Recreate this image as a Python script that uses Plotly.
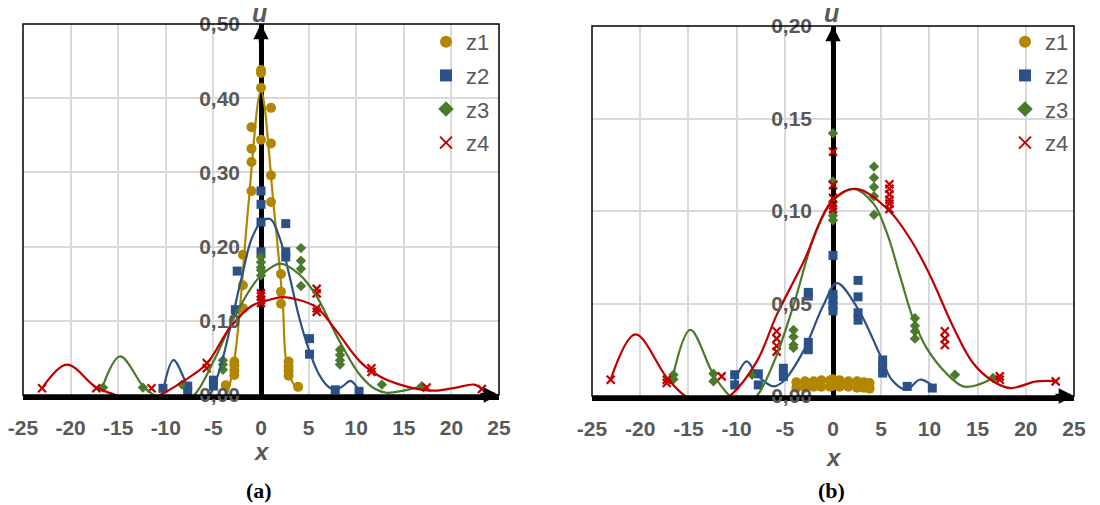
import plotly.graph_objects as go

# ---------------- data: panel (a) ----------------
a_z1_x = [0, 0, 0, 0, 1.05, -1.0, 1.05, -1.0, -1.0, 1.05, -1.0, 1.05, -1.9, -1.9, -1.9,
          2.1, 2.1, 2.1, -2.8, -2.8, -2.8, -2.8, -3.7, 2.9, 2.9, 2.9, 2.9, 3.9]
a_z1_u = [0.438, 0.434, 0.414, 0.344, 0.387, 0.361, 0.339, 0.332, 0.314, 0.296, 0.275, 0.260,
          0.189, 0.148, 0.117, 0.163, 0.139, 0.123, 0.045, 0.040, 0.033, 0.027, 0.013,
          0.045, 0.038, 0.032, 0.026, 0.011]
a_z2_x = [0, 0, 0, 0, 2.6, 2.6, 2.6, -2.5, -2.7, 5.1, 5.1, -5.0, -5.0, -7.7, -7.7, -10.3, 7.8, 10.3]
a_z2_u = [0.275, 0.257, 0.233, 0.193, 0.231, 0.193, 0.186, 0.167, 0.115, 0.076, 0.055,
          0.020, 0.012, 0.012, 0.006, 0.009, 0.007, 0.005]
a_z3_x = [0, 0, 0, 0, 0, 4.2, 4.2, 4.2, 4.2, 8.3, 8.3, 8.3, 8.3, -4.0, -4.0, -4.0,
          -8.3, -12.4, -16.6, 12.7, 16.9]
a_z3_u = [0.186, 0.179, 0.172, 0.168, 0.161, 0.198, 0.181, 0.170, 0.147, 0.061, 0.054,
          0.047, 0.041, 0.047, 0.041, 0.034, 0.014, 0.010, 0.010, 0.014, 0.012]
a_z4_x = [0, 0, 0, 0, 5.85, 5.85, 5.85, 5.85, -5.7, -5.7, -23.0, -17.3, -11.5, 11.6, 11.6, 17.4, 23.2]
a_z4_u = [0.137, 0.133, 0.128, 0.124, 0.143, 0.137, 0.117, 0.112, 0.043, 0.036,
          0.009, 0.009, 0.009, 0.036, 0.031, 0.010, 0.008]

# smooth curves (a)
a_c1_x = [-3.6, -3.0, -2.4, -1.33, 0.0, 1.33, 2.3, 2.6, 3.2, 3.9]
a_c1_u = [0.0, 0.03, 0.09, 0.255, 0.41, 0.255, 0.12, 0.05, 0.02, 0.006]
a_c2_x = [-10.3, -9.2, -8.0, -7.0, -6.0, -5.0, -4.0, -3.0, -2.0, -1.0, 0.0, 1.0, 2.0,
          3.0, 4.0, 5.0, 6.0, 7.0, 7.8, 8.6, 9.4, 10.3]
a_c2_u = [0.005, 0.047, 0.02, -0.01, -0.01, 0.01, 0.05, 0.105, 0.16, 0.21, 0.233, 0.237,
          0.21, 0.16, 0.105, 0.062, 0.03, 0.012, 0.007, 0.012, 0.019, 0.006]
a_c3_x = [-16.7, -14.8, -12.4, -11.3, -9.5, -7.0, -5.0, -3.0, -1.0, 0.0, 2.0, 4.0, 5.8,
          8.1, 10.4, 12.0, 13.2, 15.0, 16.9]
a_c3_u = [0.009, 0.052, 0.012, 0.0, -0.02, 0.0, 0.045, 0.1, 0.145, 0.161, 0.177, 0.163,
          0.134, 0.076, 0.027, 0.008, 0.003, 0.006, 0.012]
a_c4_x = [-23.0, -20.4, -17.3, -15.3, -13.0, -10.6, -8.0, -5.7, -3.3, -1.0, 0.0, 2.3, 4.0,
          5.85, 8.0, 10.4, 12.5, 14.6, 16.5, 18.5, 20.5, 22.4, 23.2]
a_c4_u = [0.009, 0.041, 0.01, 0.0, -0.012, 0.0, 0.02, 0.042, 0.09, 0.12, 0.125, 0.132,
          0.128, 0.118, 0.085, 0.045, 0.025, 0.014, 0.008, 0.006, 0.01, 0.014, 0.008]

# ---------------- data: panel (b) ----------------
b_z1_x = [-3.8, -2.9, -2.0, -1.2, -0.3, 0.0, 0.7, 1.6, 2.5, 3.2, 3.8,
          -3.8, -2.9, -2.0, -1.2, -0.3, 0.0, 0.7, 1.6, 2.5, 3.2, 3.8]
b_z1_u = [0.0075, 0.008, 0.008, 0.0085, 0.0085, 0.009, 0.0085, 0.008, 0.008, 0.0075, 0.007,
          0.0045, 0.0045, 0.005, 0.005, 0.005, 0.0055, 0.005, 0.005, 0.0045, 0.0045, 0.004]
b_z2_x = [0, 0, 0, 0, 0, 2.6, 2.6, 2.6, 2.6, -2.56, -2.56, -2.56, -2.56, -5.15, -5.15,
          5.15, 5.15, 5.15, -7.75, -7.75, -10.2, -10.2, 7.7, 10.3]
b_z2_u = [0.076, 0.055, 0.052, 0.049, 0.046, 0.0625, 0.0536, 0.045, 0.041, 0.056, 0.054,
          0.029, 0.025, 0.015, 0.0105, 0.0195, 0.016, 0.0124, 0.012, 0.006, 0.0115, 0.006,
          0.0052, 0.0043]
b_z3_x = [0, 0, 0, 0, 4.25, 4.25, 4.25, 4.25, 4.25, 8.5, 8.5, 8.5, 8.5, -4.1, -4.1, -4.1,
          -4.1, -8.4, -12.4, -12.4, -16.55, -16.55, 12.65, 16.6]
b_z3_u = [0.142, 0.116, 0.0975, 0.095, 0.124, 0.118, 0.113, 0.108, 0.098, 0.042, 0.038,
          0.035, 0.031, 0.0357, 0.032, 0.0276, 0.026, 0.0115, 0.012, 0.008, 0.0115, 0.009,
          0.0115, 0.0097]
b_z4_x = [0, 0, 0, 0, 0, 5.85, 5.85, 5.85, 5.85, 5.85, 5.85, -5.85, -5.85, -5.85, -5.85,
          -23.06, -17.25, -17.25, -11.55, 11.6, 11.6, 11.6, 17.3, 17.3, 23.1]
b_z4_u = [0.132, 0.114, 0.107, 0.103, 0.101, 0.1145, 0.112, 0.109, 0.106, 0.104, 0.101,
          0.035, 0.031, 0.027, 0.024, 0.0088, 0.0088, 0.007, 0.0106, 0.035, 0.031, 0.0276,
          0.0106, 0.0088, 0.0079]

b_c2_x = [-10.2, -8.95, -7.9, -6.2, -5.15, -3.1, -1.0, 0.4, 2.6, 4.9, 6.1, 7.6, 9.0, 10.2]
b_c2_u = [0.008, 0.0187, 0.0115, 0.0052, 0.008, 0.024, 0.049, 0.061, 0.047, 0.022, 0.0088,
          0.0034, 0.0088, 0.006]
b_c3_x = [-16.55, -14.8, -12.4, -10.7, -9.3, -7.9, -6.0, -4.1, -1.7, 0.0, 2.1, 4.2, 5.6,
          7.0, 8.3, 9.7, 11.8, 13.5, 15.0, 16.6]
b_c3_u = [0.012, 0.0357, 0.0115, 0.0, -0.005, 0.0, 0.02, 0.049, 0.09, 0.1055, 0.112, 0.104,
          0.088, 0.064, 0.042, 0.026, 0.012, 0.0052, 0.006, 0.0097]
b_c4_x = [-23.06, -20.5, -17.25, -15.35, -13.0, -10.7, -7.9, -5.85, -3.1, 0.0, 2.45, 5.85,
          8.0, 10.0, 12.5, 14.5, 16.6, 18.4, 21.1, 23.1]
b_c4_u = [0.009, 0.0333, 0.01, 0.0, -0.006, 0.0, 0.0187, 0.0437, 0.072, 0.106, 0.112, 0.100,
          0.085, 0.066, 0.037, 0.018, 0.008, 0.0043, 0.0079, 0.008]

x_ticks = [-25, -20, -15, -10, -5, 0, 5, 10, 15, 20, 25]
x_tick_text = ["-25", "-20", "-15", "-10", "-5", "0", "5", "10", "15", "20", "25"]
series_names = ["z1", "z2", "z3", "z4"]

# ---------------- styles ----------------
W, H = 1100, 505
GOLD, BLUE, GREEN, RED = "#B38600", "#2B5188", "#4B7A2D", "#C00000"
GRAY = "#595959"
FONT = "Liberation Sans"

A = dict(x0=23, x1=499, top=24, bot=395)
B = dict(x0=592, x1=1074, top=26, bot=396)


def dom(p):
    return [p["x0"] / W, p["x1"] / W], [1 - p["bot"] / H, 1 - p["top"] / H]


markers = [
    dict(symbol="circle", size=10, color=GOLD),
    dict(symbol="square", size=9, color=BLUE),
    dict(symbol="diamond", size=8, color=GREEN),
    dict(symbol="x-thin", size=8, color=RED, line=dict(color=RED, width=2.2)),
]

fig = go.Figure()

panels = [
    ("x", "y", "legend",
     [(a_z1_x, a_z1_u), (a_z2_x, a_z2_u), (a_z3_x, a_z3_u), (a_z4_x, a_z4_u)],
     [(a_c1_x, a_c1_u, GOLD), (a_c2_x, a_c2_u, BLUE), (a_c3_x, a_c3_u, GREEN), (a_c4_x, a_c4_u, RED)]),
    ("x2", "y2", "legend2",
     [(b_z1_x, b_z1_u), (b_z2_x, b_z2_u), (b_z3_x, b_z3_u), (b_z4_x, b_z4_u)],
     [(b_c2_x, b_c2_u, BLUE), (b_c3_x, b_c3_u, GREEN), (b_c4_x, b_c4_u, RED)]),
]

for xa, ya, lg, pts, curves in panels:
    for i, (px, pu) in enumerate(pts):
        fig.add_trace(go.Scatter(
            x=px, y=pu, mode="markers", name=series_names[i], marker=markers[i],
            xaxis=xa, yaxis=ya, legend=lg, legendgroup=lg + series_names[i],
            cliponaxis=True))
    for cx, cu, col in curves:
        fig.add_trace(go.Scatter(
            x=cx, y=cu, mode="lines", line=dict(color=col, width=2.2, shape="spline", smoothing=1),
            xaxis=xa, yaxis=ya, showlegend=False, hoverinfo="skip"))

tickfont = dict(family=FONT, size=21, color=GRAY, weight="bold")


def xaxis_cfg(p, anchor):
    d, _ = dom(p)
    return dict(domain=d, anchor=anchor, range=[-25, 25], tickvals=x_ticks, ticktext=x_tick_text,
                showgrid=True, gridcolor="#D9D9D9", gridwidth=2,
                zeroline=True, zerolinecolor="black", zerolinewidth=4.5,
                showline=True, linecolor="black", linewidth=4.5, mirror=False,
                ticks="", tickfont=tickfont, ticklabelstandoff=10, fixedrange=True,
                automargin=False)


def yaxis_cfg(p, rng, dt):
    d, dy = dom(p)
    return dict(domain=dy, anchor="free", position=(d[0] + d[1]) / 2, range=rng, dtick=dt,
                tickformat=".2f", showgrid=True, gridcolor="#D9D9D9", gridwidth=2,
                zeroline=False, showline=False, ticks="", tickfont=tickfont,
                ticklabelstandoff=21, fixedrange=True, automargin=False)


legend_common = dict(font=dict(family=FONT, size=22, color=GRAY), bgcolor="rgba(0,0,0,0)",
                     tracegroupgap=2, xanchor="left", yanchor="top", itemsizing="constant")

shapes = []
annotations = []
for p, xa, ya, top, label, lab_y, xlab_y in [(A, "x", "y", 0.5, "(a)", 490, 451),
                                            (B, "x2", "y2", 0.2, "(b)", 490, 457)]:
    # thin plot border (left, top, right)
    shapes.append(dict(type="rect", xref="paper", yref="paper",
                       x0=p["x0"] / W, x1=p["x1"] / W, y0=1 - p["bot"] / H, y1=1 - p["top"] / H,
                       line=dict(color="black", width=1.5), layer="above"))
    # arrowheads
    annotations.append(dict(x=0, y=top, xref=xa, yref=ya, text="", showarrow=True, ax=0, ay=20,
                            arrowhead=2, arrowsize=0.68, arrowwidth=4.5, arrowcolor="black",
                            standoff=0))
    annotations.append(dict(x=25, y=0, xref=xa, yref=ya, text="", showarrow=True, ax=-20, ay=0,
                            arrowhead=2, arrowsize=0.68, arrowwidth=4.5, arrowcolor="black",
                            standoff=0))
    xm = (p["x0"] + p["x1"]) / 2
    annotations.append(dict(x=(xm - 2) / W, y=1 - 13 / H, xref="paper", yref="paper",
                            xanchor="center", yanchor="middle",
                            text="<b><i>u</i></b>", showarrow=False,
                            font=dict(family=FONT, size=25, color=GRAY)))
    annotations.append(dict(x=xm / W, y=1 - xlab_y / H, xref="paper", yref="paper",
                            xanchor="center", yanchor="middle",
                            text="<b><i>x</i></b>", showarrow=False,
                            font=dict(family=FONT, size=24, color=GRAY)))
    annotations.append(dict(x=(xm - 2) / W, y=1 - lab_y / H, xref="paper", yref="paper",
                            xanchor="center", yanchor="middle",
                            text="<b>" + label + "</b>", showarrow=False,
                            font=dict(family="Liberation Serif", size=22, color="black")))

fig.update_layout(
    width=W, height=H, margin=dict(l=0, r=0, t=0, b=0, autoexpand=False),
    paper_bgcolor="white", plot_bgcolor="white",
    separators=", ",
    xaxis=xaxis_cfg(A, "y"), yaxis=yaxis_cfg(A, [0, 0.5], 0.1),
    xaxis2=xaxis_cfg(B, "y2"), yaxis2=yaxis_cfg(B, [0, 0.2], 0.05),
    legend=dict(x=426 / W, y=1 - 21 / H, **legend_common),
    legend2=dict(x=1005 / W, y=1 - 21 / H, **legend_common),
    shapes=shapes, annotations=annotations, showlegend=True,
)

fig.write_html("out.html", config={"displayModeBar": False},
               post_script="document.body.style.margin='0px';document.body.style.overflow='hidden';")
